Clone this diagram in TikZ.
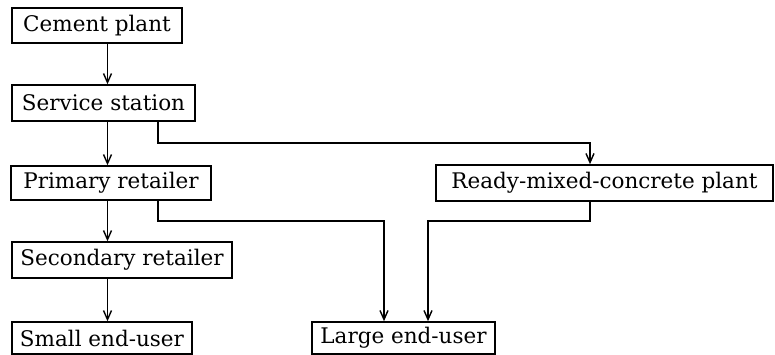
\documentclass[tikz,border=0pt]{standalone}
\usepackage{fontspec}
\setmainfont{DejaVu Serif}
\usetikzlibrary{arrows.meta}
\begin{document}
\begin{tikzpicture}[x=1pt,y=-1pt,
  box/.style={draw,line width=1.6pt,inner sep=0pt,anchor=center,font=\fontsize{21.5}{24}\selectfont},
  arr/.style={line width=1.7pt,-{Straight Barb[length=9pt,width=8pt,line width=1.4pt]}}]
\useasboundingbox (0,0) rectangle (775,355);
\node[box,minimum width=170pt,minimum height=35pt] (cement) at (97,25.5) {Cement plant};
\node[box,minimum width=183pt,minimum height=36pt] (service) at (103.5,103) {Service station};
\node[box,minimum width=200pt,minimum height=34pt] (primary) at (111,183) {Primary retailer};
\node[box,minimum width=220pt,minimum height=36pt] (secondary) at (122,260) {Secondary retailer};
\node[box,minimum width=180pt,minimum height=32pt] (small) at (102,338) {Small end-user};
\node[box,minimum width=183pt,minimum height=32pt] (large) at (403.5,338) {Large end-user};
\node[box,minimum width=337pt,minimum height=36pt] (ready) at (604.5,183) {Ready-mixed-concrete plant};
\coordinate (xa) at (107.5,0);
\coordinate (xb) at (158,0);
\coordinate (xc) at (590,0);
\coordinate (xd) at (384,0);
\coordinate (xe) at (428,0);
\coordinate (ya) at (0,143);
\coordinate (yb) at (0,221);
\draw[arr] (cement.south -| xa) -- (service.north -| xa);
\draw[arr] (service.south -| xa) -- (primary.north -| xa);
\draw[arr] (primary.south -| xa) -- (secondary.north -| xa);
\draw[arr] (secondary.south -| xa) -- (small.north -| xa);
\draw[arr] (service.south -| xb) -- (xb |- ya) -- (xc |- ya) -- (ready.north -| xc);
\draw[arr] (primary.south -| xb) -- (xb |- yb) -- (xd |- yb) -- (large.north -| xd);
\draw[arr] (ready.south -| xc) -- (xc |- yb) -- (xe |- yb) -- (large.north -| xe);
\end{tikzpicture}
\end{document}
